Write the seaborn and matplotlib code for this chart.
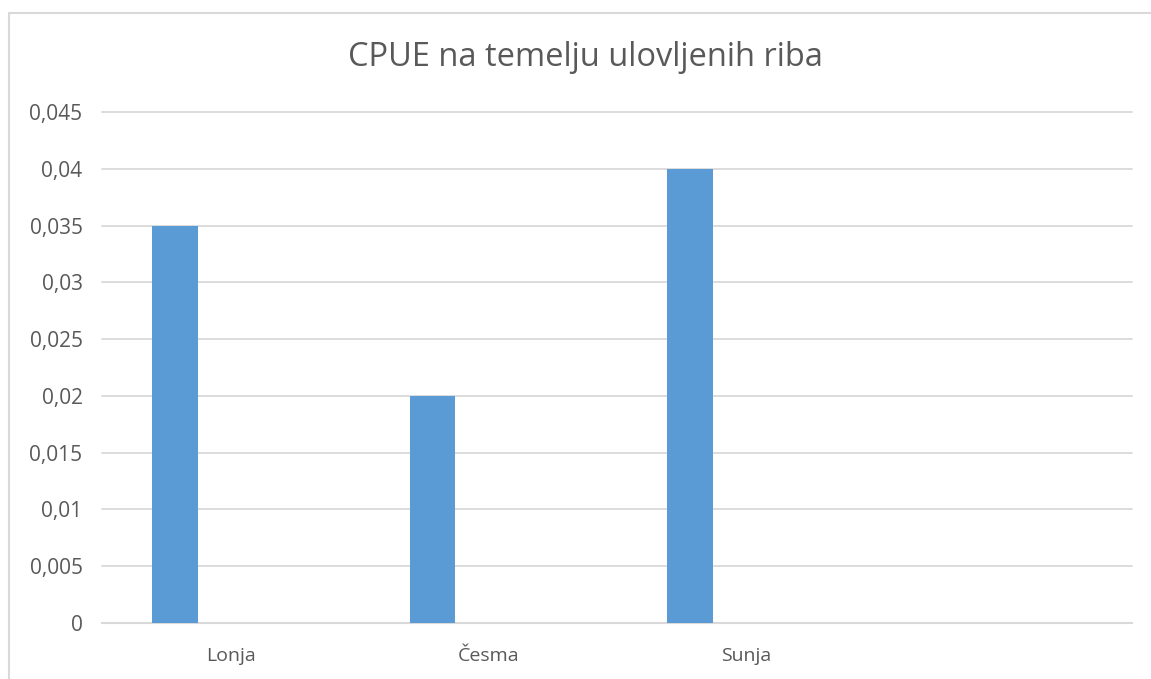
import numpy as np
import seaborn as sns
import matplotlib.pyplot as plt
from matplotlib.patches import Rectangle
from matplotlib.ticker import FuncFormatter, MultipleLocator

# Data
sites = ["Lonja", "Česma", "Sunja"]
cpue = [0.035, 0.02, 0.04]

title = "CPUE na temelju ulovljenih riba"
bar_color = "#5B9BD5"
grid_color = "#D9D9D9"
text_color = "#595959"

sns.set_theme(style="white")
plt.rcParams["font.family"] = ["Open Sans", "DejaVu Sans"]

W, H = 1151, 679
fig = plt.figure(figsize=(W / 100, H / 100), dpi=100)
ax = fig.add_axes([102 / W, 1 - 623 / H, (1132 - 102) / W, (623 - 112) / H])

sns.barplot(x=sites, y=cpue, color=bar_color, saturation=1, width=0.175,
            linewidth=0, ax=ax, zorder=3)

# excel leaves room for an empty 4th category and shifts bars left of the label
ax.set_xlim(-0.2835, 3.7165)
ax.set_xticks(np.arange(len(sites)) + 0.219)
ax.set_xticklabels(sites)

ax.set_ylim(0, 0.045)
ax.yaxis.set_major_locator(MultipleLocator(0.005))
ax.yaxis.set_major_formatter(FuncFormatter(
    lambda v, p: "0" if abs(v) < 1e-12 else f"{v:.3f}".rstrip("0").replace(".", ",")))

ax.grid(axis="y", color=grid_color, linewidth=1.3, zorder=0)
for gl in ax.get_ygridlines():
    gl.set_clip_on(False)
ax.set_axisbelow(True)
for s in ["top", "right", "left"]:
    ax.spines[s].set_visible(False)
ax.spines["bottom"].set_color(grid_color)
ax.spines["bottom"].set_linewidth(1.5)

ax.tick_params(axis="both", length=0, colors=text_color)
ax.tick_params(axis="y", pad=14, labelsize=15)
ax.tick_params(axis="x", pad=17, labelsize=14)
ax.set_xlabel("")
ax.set_ylabel("")

fig.text(585 / W, 1 - 58 / H, title, ha="center", va="center",
         fontsize=23.5, color=text_color)

# chart area border
fig.patches.append(Rectangle((9 / W, -0.1), 1.2, 1 - 13 / H + 0.1,
                             transform=fig.transFigure, fill=False,
                             edgecolor=grid_color, linewidth=1.5))

fig.savefig("out.png", dpi=100, facecolor="white")
